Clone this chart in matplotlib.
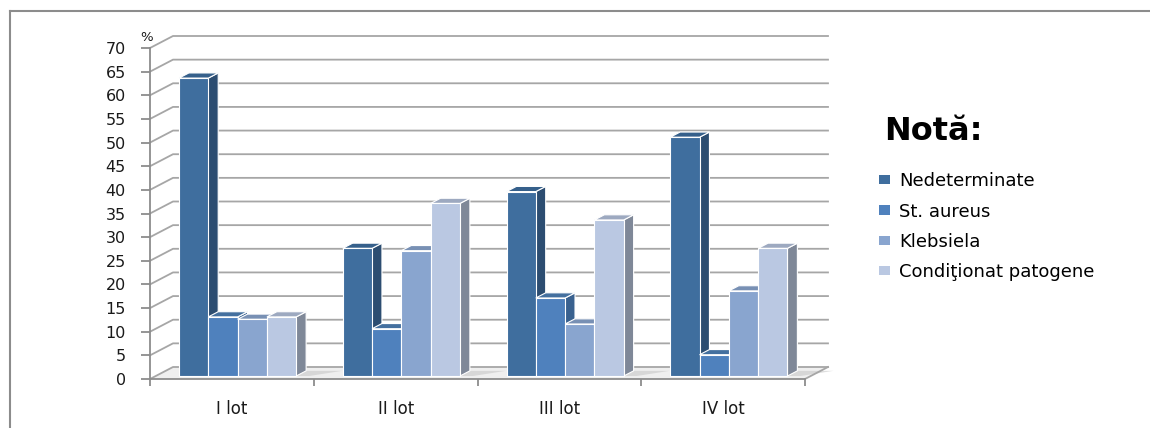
import numpy as np
import matplotlib.pyplot as plt
from matplotlib.patches import Polygon, Rectangle, Patch
from matplotlib.lines import Line2D

# lots on the x axis, share of each group of germs in %
groups = ["I lot", "II lot", "III lot", "IV lot"]
series = ["Nedeterminate", "St. aureus", "Klebsiela", "Condiţionat patogene"]
nedeterminate = [63, 27, 39, 50.5]
st_aureus = [12.5, 10, 16.5, 4.5]
klebsiela = [12, 26.5, 11, 18]
conditionat = [12.5, 36.5, 33, 27]
yticks = list(range(0, 75, 5))

values = [nedeterminate, st_aureus, klebsiela, conditionat]

front_col = ['#3F6E9E', '#4F81BD', '#89A5CF', '#BAC8E2']
side_col = ['#2C4D71', '#39618F', '#677D9F', '#7F8898']
top_col = ['#36608B', '#44709F', '#7890B4', '#9DA9C0']
grid_col = '#A6A6A6'
axis_col = '#8C8C8C'

W, H = 1150, 428
fig = plt.figure(figsize=(W / 100, H / 100), dpi=100)
ax = fig.add_axes([150 / W, 49 / H, 655 / W, 331 / H])
ax.set_xlim(0, 4)
ax.set_ylim(0, 70)

# oblique depth of the chart box (x in category units, y in %)
dx = 23 / 163.75
dy = 12 / 4.729
n = len(groups)

# floor
floor = Polygon([(0, 0), (n, 0), (n + dx, dy), (dx, dy)], closed=True,
                facecolor='#EFEFEF', edgecolor='none', clip_on=False, zorder=1)
ax.add_patch(floor)
ax.plot([n, n + dx], [0, dy], color=grid_col, lw=1.3, clip_on=False, zorder=2)

# gridlines on side and back walls
for v in yticks:
    ax.plot([0, dx, n + dx], [v, v + dy, v + dy], color=grid_col, lw=1.3,
            clip_on=False, zorder=1.5)

# 3d-looking bars
w = 0.179
z0, z1 = 0.25, 0.68
for i in range(n):
    # soft shadow cast on the floor right of each group
    xr = i + 0.5 + 2 * w
    shadow = Polygon([(xr + dx * z0, dy * z0), (xr + dx * z1, dy * z1),
                      (xr + 0.22 + dx * z1, dy * z1), (xr + 0.08 + dx * z0, dy * z0)],
                     closed=True, facecolor='#C8C8C8', edgecolor='none', alpha=0.6,
                     clip_on=False, zorder=1.6)
    ax.add_patch(shadow)
    shadow.set_clip_path(floor)
    for j, vals in enumerate(values):
        v = vals[i]
        x0 = i + 0.5 - 2 * w + j * w
        xf = x0 + dx * z0
        yf = dy * z0
        xb = x0 + dx * z1
        yb = dy * z1
        side = Polygon([(xf + w, yf), (xb + w, yb), (xb + w, v + yb), (xf + w, v + yf)],
                       closed=True, facecolor=side_col[j], edgecolor='white',
                       lw=0.8, clip_on=False, zorder=3)
        top = Polygon([(xf, v + yf), (xf + w, v + yf), (xb + w, v + yb), (xb, v + yb)],
                      closed=True, facecolor=top_col[j], edgecolor='white',
                      lw=0.8, clip_on=False, zorder=3)
        front = Rectangle((xf, yf), w, v, facecolor=front_col[j], edgecolor='white',
                          lw=0.8, clip_on=False, zorder=3)
        ax.add_patch(side)
        ax.add_patch(top)
        ax.add_patch(front)

for s in ['top', 'right']:
    ax.spines[s].set_visible(False)
for s in ['left', 'bottom']:
    ax.spines[s].set_color(axis_col)
    ax.spines[s].set_linewidth(1.3)
    ax.spines[s].set_zorder(2)

ax.set_yticks(yticks)
ax.tick_params(axis='y', length=6.5, width=1.3, color=axis_col, pad=11,
               labelsize=11.5, labelcolor='#1A1A1A')
ax.set_xticks(range(n + 1))
ax.set_xticklabels([])
ax.set_xticks(np.arange(n) + 0.5, minor=True)
ax.set_xticklabels(groups, minor=True, fontsize=12,
                   family=['Liberation Sans Narrow', 'DejaVu Sans'])
ax.tick_params(axis='x', which='major', length=5, width=1.3, color=axis_col)
ax.tick_params(axis='x', which='minor', length=0, pad=15, labelcolor='#1A1A1A')
ax.patch.set_visible(False)

ax.text(-0.02, 72.3, '%', fontsize=9.5, ha='center', va='center', color='#1A1A1A')

# outer frame (left and top edges)
fig.add_artist(Line2D([10 / W, 10 / W], [0, 1 - 11 / H], transform=fig.transFigure,
                      color=axis_col, lw=1.5))
fig.add_artist(Line2D([10 / W, 1], [1 - 11 / H, 1 - 11 / H], transform=fig.transFigure,
                      color=axis_col, lw=1.5))

fig.text(884 / W, 1 - 132 / H, 'Notă:', fontsize=23, fontweight='bold',
         ha='left', va='center')
handles = [Patch(facecolor=c, edgecolor='none') for c in front_col]
fig.legend(handles, series, loc='upper left', bbox_to_anchor=(872 / W, 1 - 165 / H),
           frameon=False, fontsize=13, handlelength=0.6, handleheight=0.4,
           handletextpad=0.5, labelspacing=0.68, borderaxespad=0)

fig.savefig('out.png', dpi=100)
